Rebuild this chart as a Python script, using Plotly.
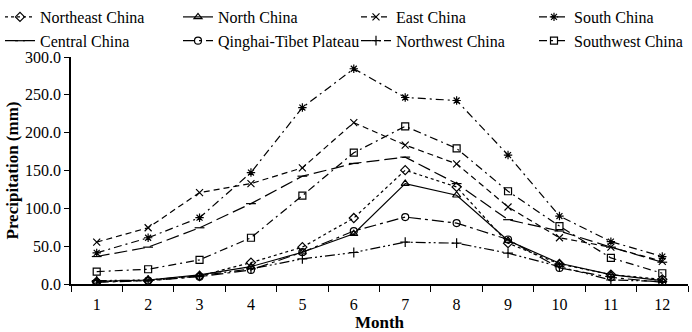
import plotly.graph_objects as go

months = ["1", "2", "3", "4", "5", "6", "7", "8", "9", "10", "11", "12"]

northeast = [3.0, 4.4, 10.6, 28.3, 48.7, 87.2, 150.4, 128.3, 54.0, 26.5, 12.4, 6.2]
north = [3.5, 5.3, 12.0, 23.0, 42.0, 66.4, 132.7, 117.3, 57.5, 27.4, 12.4, 4.4]
east = [55.3, 74.3, 120.8, 132.7, 153.5, 213.3, 183.6, 158.8, 101.8, 61.1, 48.7, 30.0]
south = [41.2, 61.1, 87.6, 147.3, 233.2, 284.5, 246.5, 242.5, 170.4, 89.8, 56.0, 36.3]
central = [36.3, 48.7, 74.3, 106.2, 142.5, 159.3, 167.7, 132.7, 85.0, 70.0, 48.7, 28.8]
qinghai = [2.2, 4.4, 9.7, 18.6, 42.0, 70.0, 88.5, 80.5, 58.8, 21.2, 8.8, 2.2]
northwest = [4.4, 5.3, 11.0, 20.0, 33.2, 41.6, 55.3, 54.0, 40.7, 23.0, 5.3, 3.5]
southwest = [16.4, 19.5, 31.9, 61.1, 116.8, 173.5, 208.4, 179.2, 122.6, 76.5, 34.5, 14.2]

# (name, values, dash, marker symbol, legend column)
series = [
    ("Northeast China", northeast, "dot", "diamond-open", "legend"),
    ("North China", north, "solid", "triangle-up-open", "legend2"),
    ("East China", east, "6px,4px", "x-thin-open", "legend3"),
    ("South China", south, "8px,4px,2px,4px", "asterisk-open", "legend4"),
    ("Central China", central, "13px,5px", "line-ew-open", "legend"),
    ("Qinghai-Tibet Plateau", qinghai, "12px,4px,3px,4px", "circle-open", "legend2"),
    ("Northwest China", northwest, "10px,3px,2px,3px,2px,3px", "cross-thin-open", "legend3"),
    ("Southwest China", southwest, "8px,4px,2px,4px", "square-open", "legend4"),
]

fig = go.Figure()
for name, vals, dash, sym, leg in series:
    fig.add_trace(go.Scatter(
        x=months, y=vals, name=name, mode="lines+markers", legend=leg,
        line=dict(color="black", width=1.2, dash=dash),
        marker=dict(symbol=sym, size=7, color="black",
                    line=dict(color="black", width=1.2)),
    ))

font_family = "Liberation Serif, Times New Roman, serif"
leg_font = dict(family=font_family, size=16, color="black")


def legend_at(px):
    return dict(orientation="v", x=px / 692, xref="container", y=1.0, yref="container",
                yanchor="top", xanchor="left", font=leg_font, itemwidth=30,
                tracegroupgap=0, bgcolor="rgba(0,0,0,0)", borderwidth=0)


fig.update_layout(
    width=692, height=332,
    margin=dict(l=71, r=4, t=57, b=48, autoexpand=False),
    paper_bgcolor="white", plot_bgcolor="white",
    font=dict(family=font_family, size=16, color="black"),
    showlegend=True,
    legend=legend_at(0),
    legend2=legend_at(178),
    legend3=legend_at(356),
    legend4=legend_at(534),
    xaxis=dict(type="category", range=[-0.5, 11.5], tickson="boundaries",
               ticks="outside", ticklen=6, tickcolor="black", tickwidth=1.2,
               ticklabelstandoff=5,
               showline=True, linecolor="black", linewidth=1.5,
               showgrid=False, zeroline=False,
               tickfont=dict(family=font_family, size=16),
               title=dict(text="<b>Month</b>", font=dict(family=font_family, size=17), standoff=3)),
    yaxis=dict(range=[0, 300], dtick=50, tickformat=".1f",
               ticks="outside", ticklen=5, tickcolor="black", tickwidth=1.2,
               showline=True, linecolor="black", linewidth=1.5,
               showgrid=False, zeroline=False,
               tickfont=dict(family=font_family, size=16)),
    annotations=[dict(
        text="<b>Precipitation (mm)</b>", textangle=-90,
        xref="paper", yref="paper", x=-(71 - 12) / 617, y=0.5,
        xanchor="center", yanchor="middle", showarrow=False,
        font=dict(family=font_family, size=17, color="black"),
    )],
)

fig.write_html("out.html", config={"displayModeBar": False},
               post_script="document.body.style.margin='0';")
